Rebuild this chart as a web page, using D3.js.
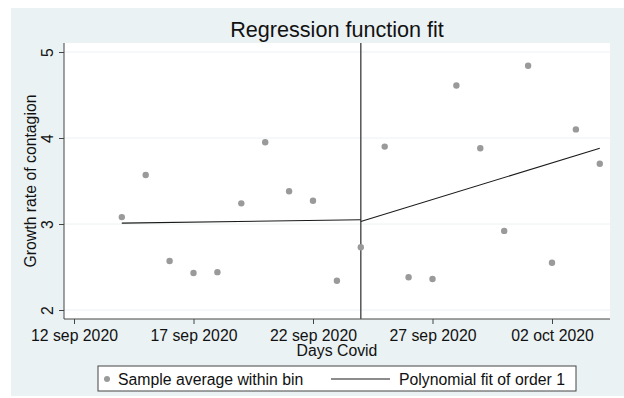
<!DOCTYPE html>
<html>
<head>
<meta charset="utf-8">
<script src="https://cdn.jsdelivr.net/npm/d3@7"></script>
<style>
  body { margin: 0; background: #fff; }
  text { font-family: "Liberation Sans", Arial, sans-serif; fill: #111; }
</style>
</head>
<body>
<div id="chart"></div>
<script>
// binned averages, one per day
var days = ["2020-09-14","2020-09-15","2020-09-16","2020-09-17","2020-09-18","2020-09-19","2020-09-20",
            "2020-09-21","2020-09-22","2020-09-23","2020-09-24","2020-09-25","2020-09-26","2020-09-27",
            "2020-09-28","2020-09-29","2020-09-30","2020-10-01","2020-10-02","2020-10-03","2020-10-04"]
var growth = [3.08, 3.57, 2.57, 2.43, 2.44, 3.24, 3.95, 3.38, 3.27, 2.34, 2.73, 3.90, 2.38, 2.36,
              4.61, 3.88, 2.92, 4.84, 2.55, 4.10, 3.70]

// linear fits on each side of the cutoff
var fitLeftDays = ["2020-09-14", "2020-09-24"]
var fitLeftVals = [3.01, 3.05]
var fitRightDays = ["2020-09-24", "2020-10-04"]
var fitRightVals = [3.03, 3.88]

var cutoff = "2020-09-24"
var xTicks = ["2020-09-12","2020-09-17","2020-09-22","2020-09-27","2020-10-02"]
var yTicks = [2, 3, 4, 5]

var parse = d3.timeParse("%Y-%m-%d")
var fmt = d3.timeFormat("%d %b %Y")
var tickFmt = function(d) { return fmt(d).toLowerCase() }

var width = 624, height = 398
var margin = {left: 64, top: 43, right: 14, bottom: 79}
var w = width - margin.left - margin.right
var h = height - margin.top - margin.bottom
var fs = "15.8px"

var svg = d3.select("#chart").append("svg")
    .attr("width", width)
    .attr("height", height)

// graph region background
svg.append("rect")
    .attr("x", 11).attr("y", 8)
    .attr("width", width - 11).attr("height", height - 10)
    .attr("fill", "#eaf2f3")

var g = svg.append("g")
    .attr("transform", "translate(" + margin.left + "," + margin.top + ")")

g.append("rect")
    .attr("width", w).attr("height", h)
    .attr("fill", "#fff")

var x = d3.scaleTime()
    .domain([parse("2020-09-12"), parse("2020-10-02")])
    .range([10, 488])

var y = d3.scaleLinear()
    .domain([2, 5])
    .range([267, 9])

// horizontal grid
g.selectAll(".grid")
  .data(yTicks)
  .enter()
  .append("line")
    .attr("x1", 0).attr("x2", w)
    .attr("y1", function(d) { return y(d) })
    .attr("y2", function(d) { return y(d) })
    .attr("stroke", "#eaf2f3")
    .attr("stroke-width", 1)

// axes
var yAxis = g.append("g")
    .call(d3.axisLeft(y).tickValues(yTicks).tickSize(5).tickFormat(d3.format("d")))
yAxis.select(".domain").attr("d", "M0,0V" + h).attr("stroke", "#444")
yAxis.selectAll(".tick line").attr("stroke", "#444")
yAxis.selectAll(".tick text")
    .attr("x", 0).attr("y", 0)
    .attr("dy", null)
    .attr("transform", "translate(-11,0) rotate(-90)")
    .attr("text-anchor", "middle")
    .style("font-size", fs)
    .style("font-family", "Liberation Sans, Arial, sans-serif")
    .attr("fill", "#111")

var xAxis = g.append("g")
    .attr("transform", "translate(0," + h + ")")
    .call(d3.axisBottom(x).tickValues(xTicks.map(parse)).tickSize(5).tickFormat(tickFmt))
xAxis.select(".domain").attr("d", "M0,0H" + w).attr("stroke", "#444")
xAxis.selectAll(".tick line").attr("stroke", "#444")
xAxis.selectAll(".tick text")
    .attr("y", 11)
    .style("font-size", fs)
    .style("font-family", "Liberation Sans, Arial, sans-serif")
    .attr("fill", "#111")

// cutoff line
g.append("line")
    .attr("x1", x(parse(cutoff))).attr("x2", x(parse(cutoff)))
    .attr("y1", 0).attr("y2", h)
    .attr("stroke", "#555")
    .attr("stroke-width", 1.5)

// points
g.selectAll(".dot")
  .data(days.map(function(d, i) { return {date: parse(d), v: growth[i]} }))
  .enter()
  .append("circle")
    .attr("cx", function(d) { return x(d.date) })
    .attr("cy", function(d) { return y(d.v) })
    .attr("r", 3.2)
    .attr("fill", "#9a9a9a")

// fitted lines
var line = d3.line()
    .x(function(d) { return x(d[0]) })
    .y(function(d) { return y(d[1]) })

;[[fitLeftDays, fitLeftVals], [fitRightDays, fitRightVals]].forEach(function(f) {
  g.append("path")
    .datum(f[0].map(function(d, i) { return [parse(d), f[1][i]] }))
    .attr("d", line)
    .attr("fill", "none")
    .attr("stroke", "#1a1a1a")
    .attr("stroke-width", 1.1)
})

// titles
svg.append("text")
    .attr("x", margin.left + w / 2).attr("y", 37)
    .attr("text-anchor", "middle")
    .style("font-size", "21.6px")
    .text("Regression function fit")

svg.append("text")
    .attr("x", margin.left + w / 2).attr("y", 356)
    .attr("text-anchor", "middle")
    .style("font-size", fs)
    .text("Days Covid")

svg.append("text")
    .attr("transform", "translate(36," + (margin.top + h / 2) + ") rotate(-90)")
    .attr("text-anchor", "middle")
    .style("font-size", fs)
    .text("Growth rate of contagion")

// legend
var leg = svg.append("g")
leg.append("rect")
    .attr("x", 98).attr("y", 366)
    .attr("width", 478).attr("height", 25)
    .attr("fill", "#fff")
    .attr("stroke", "#444")
    .attr("stroke-width", 1)
leg.append("circle")
    .attr("cx", 107).attr("cy", 379).attr("r", 3)
    .attr("fill", "#9a9a9a")
leg.append("text")
    .attr("x", 118).attr("y", 384.5)
    .style("font-size", fs)
    .text("Sample average within bin")
leg.append("line")
    .attr("x1", 331).attr("x2", 390)
    .attr("y1", 379).attr("y2", 379)
    .attr("stroke", "#1a1a1a")
    .attr("stroke-width", 1.1)
leg.append("text")
    .attr("x", 399).attr("y", 384.5)
    .style("font-size", fs)
    .text("Polynomial fit of order 1")
</script>
</body>
</html>
